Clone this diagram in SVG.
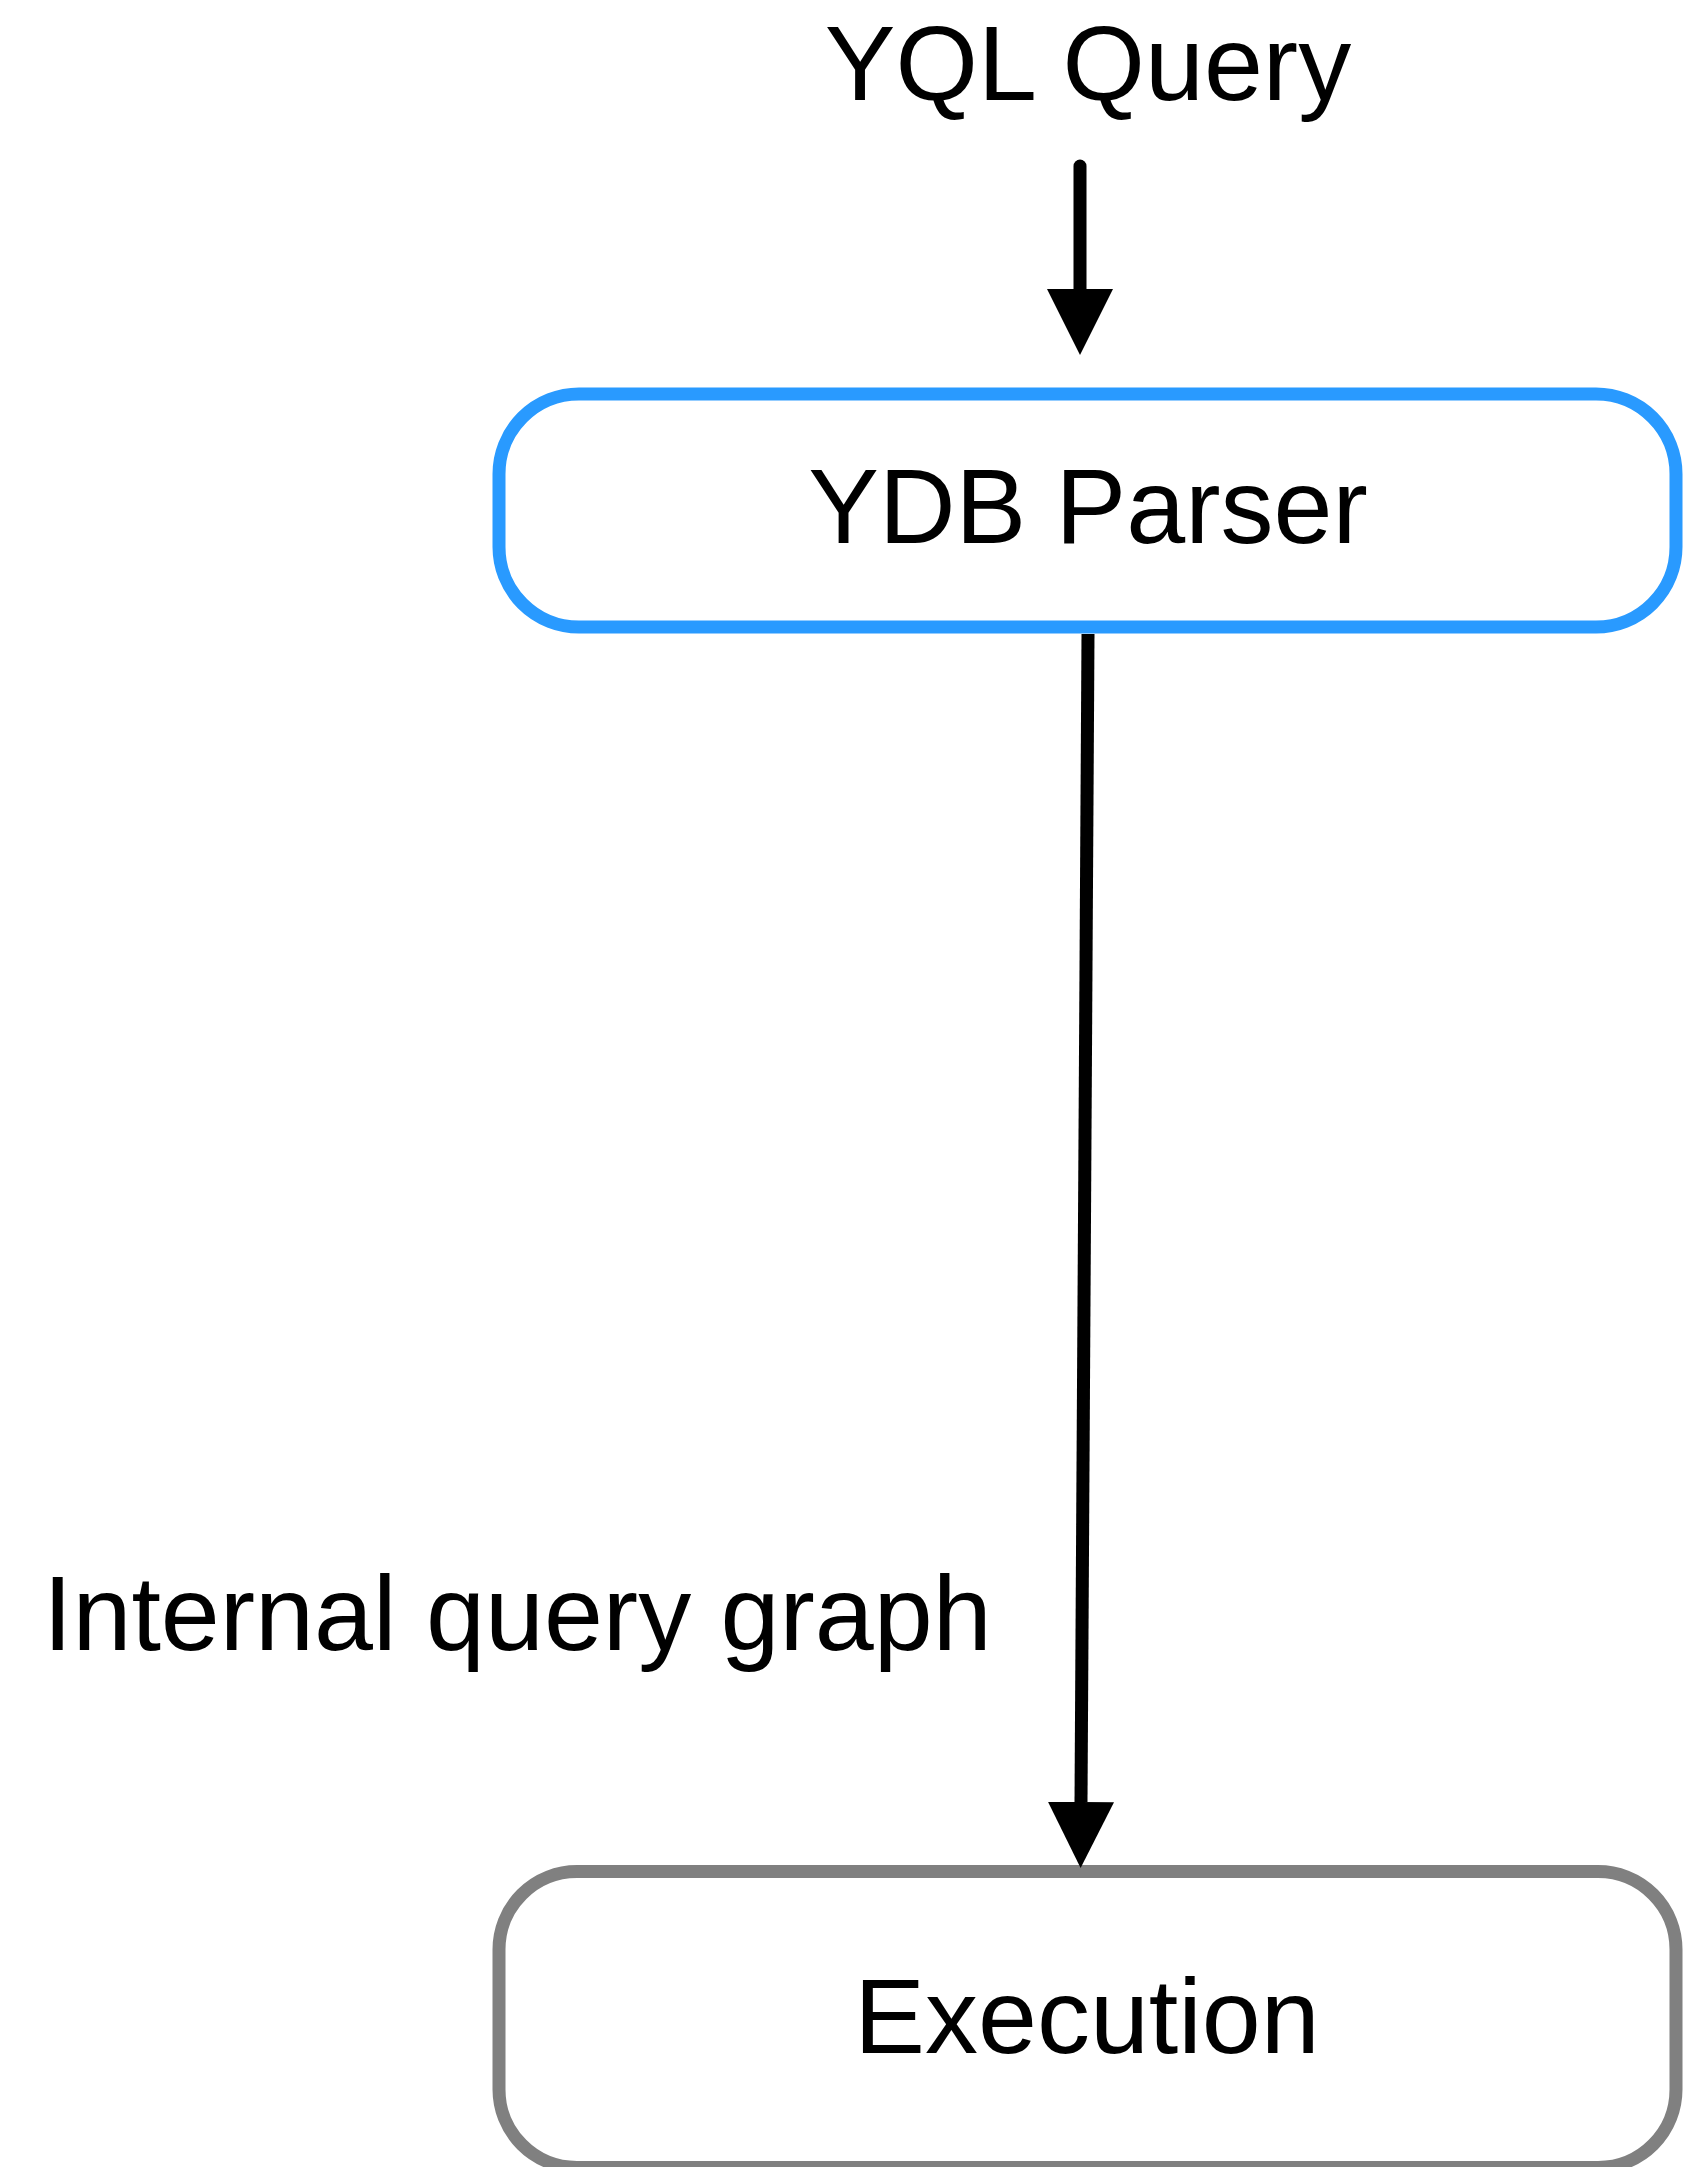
<svg xmlns="http://www.w3.org/2000/svg" width="1707" height="2167" viewBox="0 0 1707 2167">
  <style>
    .lbl { font-family: "Liberation Sans", Arial, sans-serif; font-size: 106px; fill: #000000; }
    .box { fill: #ffffff; stroke-width: 13; }
    .edge { fill: none; stroke: #000000; stroke-width: 13; }
  </style>
  <defs>
    <marker id="arrow" markerUnits="userSpaceOnUse" markerWidth="66" markerHeight="66" viewBox="0 -33 66 66" refX="0" refY="0" orient="auto">
      <path d="M0,-33 L66,0 L0,33 Z" fill="#000000"/>
    </marker>
  </defs>
  <rect width="1707" height="2167" fill="#ffffff"/>
  <g id="yql-query">
    <text class="lbl" x="1088" y="100" text-anchor="middle">YQL Query</text>
  </g>
  <g id="ydb-parser">
    <rect class="box" x="499" y="394" width="1177" height="233" rx="80" ry="80" stroke="#299aff"/>
    <text class="lbl" x="1088" y="543" text-anchor="middle">YDB Parser</text>
  </g>
  <g id="execution">
    <rect class="box" x="499" y="1871.5" width="1177" height="296" rx="78" ry="78" stroke="#808080"/>
    <text class="lbl" x="1087" y="2053" text-anchor="middle">Execution</text>
  </g>
  <g id="connectors">
    <path class="edge" d="M1080,166 L1080,289" stroke-linecap="round" marker-end="url(#arrow)"/>
    <path class="edge" d="M1088,634 L1081,1802" marker-end="url(#arrow)"/>
    <text class="lbl" x="43" y="1650">Internal query graph</text>
  </g>
</svg>
